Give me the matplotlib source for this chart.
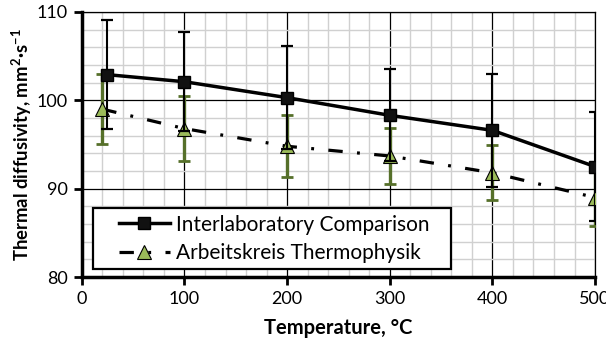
import matplotlib.pyplot as plt
from matplotlib.ticker import MultipleLocator
from matplotlib.lines import Line2D
from matplotlib.legend_handler import HandlerLine2D

plt.rcParams['font.family'] = ['Lato', 'DejaVu Sans']
plt.rcParams['mathtext.fontset'] = 'custom'
plt.rcParams['mathtext.rm'] = 'Lato'
plt.rcParams['mathtext.bf'] = 'Lato:bold'

# Interlaboratory comparison
temp_ilc = [25, 100, 200, 300, 400, 500]
diff_ilc = [102.9, 102.1, 100.3, 98.3, 96.6, 92.5]
err_ilc = [6.2, 5.6, 5.8, 5.2, 6.4, 6.2]

# Arbeitskreis Thermophysik
temp_akt = [20, 100, 200, 300, 400, 500]
diff_akt = [99.0, 96.8, 94.8, 93.7, 91.8, 89.0]
err_akt = [4.0, 3.7, 3.5, 3.2, 3.1, 3.2]

fig = plt.figure(figsize=(6.06, 3.40), dpi=100)
ax = fig.add_axes([0.135, 0.185, 0.847, 0.78])

green = '#9bbb59'
olive = '#56702a'
dashdot = (0, (4.5, 4.5, 0.9, 4.5))

ax.errorbar(temp_akt, diff_akt, yerr=err_akt, fmt='none', ecolor=olive,
            elinewidth=2.4, capsize=4, capthick=2, zorder=3)
ax.plot(temp_akt, diff_akt, color='black', lw=2.3, linestyle=dashdot, zorder=3)
ax.plot(temp_akt, diff_akt, linestyle='none', marker='^', ms=9.5,
        mfc=green, mec='black', mew=0.8, zorder=4)

ax.errorbar(temp_ilc, diff_ilc, yerr=err_ilc, fmt='none', ecolor='black',
            elinewidth=1.5, capsize=4, capthick=1.6, zorder=5)
ax.plot(temp_ilc, diff_ilc, color='black', lw=2.5, marker='s', ms=9,
        mfc='#111111', mec='black', zorder=6)

ax.set_xlim(0, 500)
ax.set_ylim(80, 110)
ax.xaxis.set_major_locator(MultipleLocator(100))
ax.xaxis.set_minor_locator(MultipleLocator(20))
ax.yaxis.set_major_locator(MultipleLocator(10))
ax.yaxis.set_minor_locator(MultipleLocator(2))
ax.grid(which='minor', color='#d0d0d0', lw=1.0, zorder=0)
ax.grid(which='major', color='black', lw=0.9, zorder=1)
ax.set_axisbelow(True)

for side in ['left', 'bottom']:
    ax.spines[side].set_linewidth(2.5)
for side in ['top', 'right']:
    ax.spines[side].set_linewidth(0.9)
ax.tick_params(which='major', direction='out', length=6, width=2,
               labelsize=13, colors='black', pad=4)
ax.tick_params(which='minor', length=0)
ax.tick_params(axis='x', top=False)
ax.tick_params(axis='y', right=False)

ax.set_xlabel('Temperature, °C', fontsize=14.5, fontweight='bold', labelpad=8)
ax.set_ylabel(r'Thermal diffusivity, mm$^{\mathbf{2}}$·s$^{\mathbf{-1}}$',
              fontsize=13.3, fontweight='bold', labelpad=2)

handles = [
    Line2D([], [], color='black', lw=2.5, marker='s', ms=9, mfc='#111111'),
    Line2D([], [], color='black', lw=2.3, linestyle=dashdot,
           marker='^', ms=9.5, mfc=green, mec='black', mew=0.8),
]
# legend box stretched to a fixed width, text kept at the left
leg = ax.legend(handles, ['Interlaboratory Comparison', 'Arbeitskreis Thermophysik'],
                loc='lower left', bbox_to_anchor=(0.0214, 0.03, 0.698, 0.2),
                mode='expand', fontsize=15,
                frameon=True, fancybox=False, framealpha=1, edgecolor='black',
                handlelength=3.4, borderpad=0.3, labelspacing=0.4,
                handletextpad=0.3, borderaxespad=0,
                handler_map={h: HandlerLine2D(xpad=0.95) for h in handles})
leg.get_frame().set_linewidth(1.6)
leg.set_zorder(10)

fig.savefig('out.png', dpi=100)
